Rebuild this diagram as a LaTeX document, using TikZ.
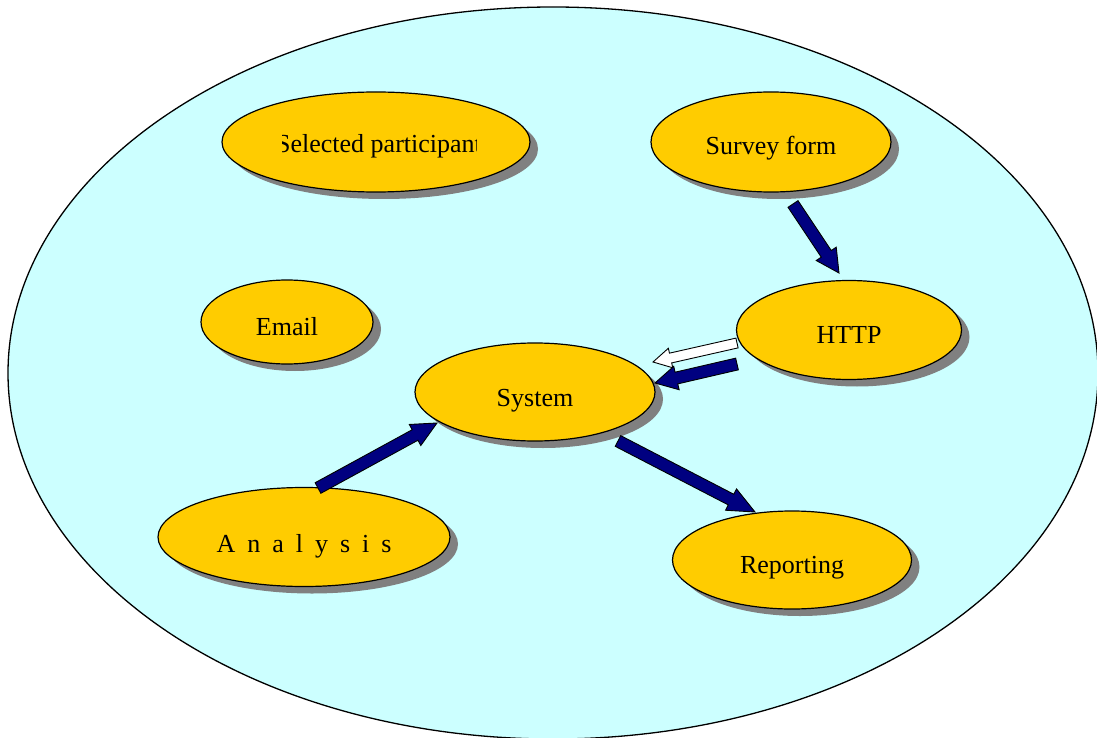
\documentclass[tikz,border=0pt]{standalone}
\usepackage{fontspec}
\setmainfont{Liberation Serif}
\usetikzlibrary{shapes.geometric,shadows,calc}
\definecolor{bgcyan}{HTML}{CCFFFF}
\definecolor{nodeyellow}{HTML}{FFCC00}
\definecolor{navy}{HTML}{000080}
\definecolor{shadowgray}{HTML}{808080}
\tikzset{
  bubble/.style={ellipse, draw=black, line width=1.2pt, fill=nodeyellow, inner sep=0pt,
    font=\fontsize{26}{30}\selectfont, text height=26pt, text depth=0pt,
    drop shadow={shadow xshift=8pt, shadow yshift=-7pt, fill=shadowgray, opacity=1}},
  navyarrow/.style={draw=black, line width=0.9pt, fill=navy},
  whitearrow/.style={draw=black, line width=0.9pt, fill=white},
}
\newcommand\blockarrow[6]{%
  \coordinate (bah) at ($(#3)!#6!(#2)$);
  \draw[#1] ($(#2)!#4!90:(#3)$) -- ($(bah)!#4!90:(#3)$) -- ($(bah)!#5!90:(#3)$) -- (#3)
    -- ($(bah)!#5!-90:(#3)$) -- ($(bah)!#4!-90:(#3)$) -- ($(#2)!#4!-90:(#3)$) -- cycle;
}
\begin{document}
\begin{tikzpicture}[x=1pt,y=-1pt]
  \useasboundingbox (0,0) rectangle (1097,738);
  \begin{scope}
    \clip (0,0) rectangle (1097,738);
    \draw[line width=1.3pt, fill=bgcyan] (553,373) ellipse [x radius=545, y radius=366];
  \end{scope}

  \node[bubble, minimum width=308pt, minimum height=100pt] (sel) at (376,142) {};
  \begin{scope}
    \clip (282,120) rectangle (476,170);
    \node[font=\fontsize{26}{30}\selectfont, inner sep=0pt, text height=26pt, text depth=0pt] (seltext) at (379,140) {Selected participant};
  \end{scope}
  \node[bubble, minimum width=240pt, minimum height=100pt] (survey) at (771,142) {Survey form};
  \node[bubble, minimum width=172pt, minimum height=84pt] (email) at (287,322) {Email};
  \node[bubble, minimum width=225pt, minimum height=99pt] (http) at (849,330) {HTTP};
  \node[bubble, minimum width=240pt, minimum height=98pt, text height=29pt] (system) at (535,392) {System};
  \node[bubble, minimum width=292pt, minimum height=99pt, text height=30pt] (analysis) at (304,537)
    {A\hspace{12pt}n\hspace{12pt}a\hspace{12pt}l\hspace{12pt}y\hspace{12pt}s\hspace{12pt}i\hspace{12pt}s};
  \node[bubble, minimum width=239pt, minimum height=98pt] (report) at (792,560) {Reporting};

  \coordinate (survey-out) at (793,204);
  \coordinate (http-in) at (839,273);
  \coordinate (http-out1) at (737,343);
  \coordinate (system-in1) at (653,362);
  \coordinate (http-out2) at (737,364);
  \coordinate (system-in2) at (655,383);
  \coordinate (analysis-out) at (318,488);
  \coordinate (system-in3) at (437,423);
  \coordinate (system-out) at (618,441);
  \coordinate (report-in) at (755,512);

  \blockarrow{navyarrow}{survey-out}{http-in}{6pt}{12pt}{23pt}
  \blockarrow{whitearrow}{http-out1}{system-in1}{5pt}{10pt}{18pt}
  \blockarrow{navyarrow}{http-out2}{system-in2}{6pt}{12pt}{22pt}
  \blockarrow{navyarrow}{analysis-out}{system-in3}{6pt}{12pt}{25pt}
  \blockarrow{navyarrow}{system-out}{report-in}{6pt}{12pt}{27pt}
\end{tikzpicture}
\end{document}
